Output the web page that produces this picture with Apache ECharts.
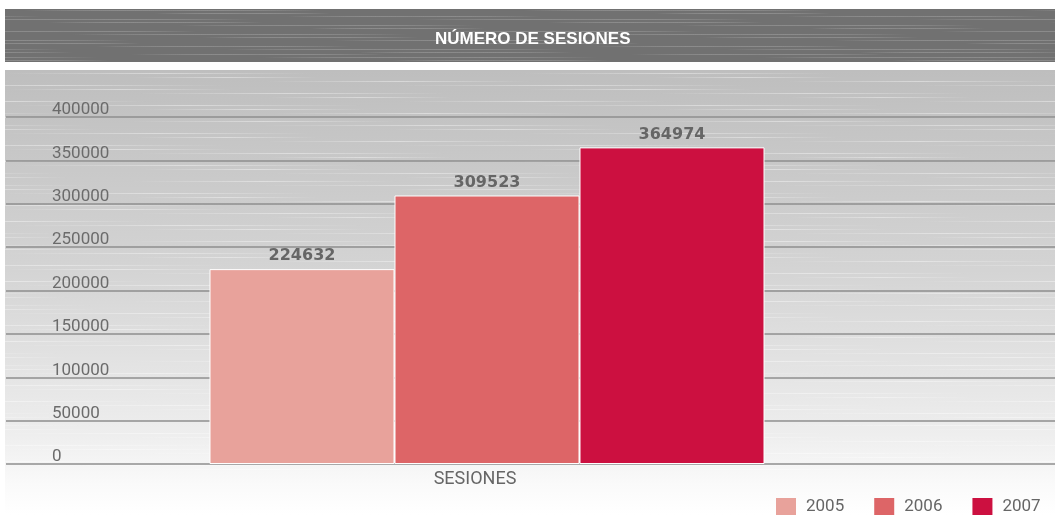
<!DOCTYPE html>
<html><head><meta charset="utf-8">
<script src="https://cdn.jsdelivr.net/npm/echarts@6/dist/echarts.min.js"></script>
<style>html,body{margin:0;padding:0;background:#fff}#c{width:1055px;height:515px}</style>
</head><body><div id="c"></div>
<script>
var categories = ['SESIONES'];
var seriesNames = ['2005', '2006', '2007'];
var values2005 = [224632];
var values2006 = [309523];
var values2007 = [364974];
var yTicks = [0, 50000, 100000, 150000, 200000, 250000, 300000, 350000, 400000];
var colors = ['#e8a29b', '#dd6567', '#cc1040'];

function stripes(w, h, color, alpha, step) {
  var c = document.createElement('canvas');
  c.width = w; c.height = h;
  var g = c.getContext('2d');
  var k = 0;
  for (var y = 1; y < h; y += step) {
    k++;
    var x0 = (k * 131) % w;
    var len = w * (0.35 + ((k * 7) % 5) * 0.08);
    var grd = g.createLinearGradient(x0, 0, x0 + len, 0);
    grd.addColorStop(0, 'rgba(255,255,255,0)');
    grd.addColorStop(0.5, color);
    grd.addColorStop(1, 'rgba(255,255,255,0)');
    g.globalAlpha = alpha;
    g.fillStyle = grd;
    g.fillRect(x0, y, len, 1);
    if (x0 + len > w) {
      g.save(); g.translate(-w, 0); g.fillRect(x0, y, len, 1); g.restore();
    }
  }
  return c;
}

var chart = echarts.init(document.getElementById('c'));
var font = 'Roboto, "Liberation Sans", sans-serif';
var seriesData = [values2005, values2006, values2007];
var series = seriesNames.map(function (n, i) {
  return {
    name: n, type: 'bar', xAxisIndex: 1, yAxisIndex: 1,
    data: seriesData[i], barWidth: 185, barGap: '0%', z: 5,
    itemStyle: { color: colors[i], borderColor: '#ffffff', borderWidth: 1 },
    label: { show: true, position: 'top', distance: 5, color: '#666666',
      fontFamily: '"DejaVu Sans", sans-serif', fontWeight: 'bold', fontSize: 16 }
  };
});

chart.setOption({
  animation: false,
  title: {
    text: 'NÚMERO DE SESIONES', left: 435, top: 31, padding: 0,
    textStyle: { color: '#ffffff', fontFamily: '"Liberation Sans", Arial, sans-serif',
      fontWeight: 'bold', fontSize: 17 }
  },
  graphic: [
    { type: 'rect', z: -20, shape: { x: 5, y: 9, width: 1050, height: 53 }, style: { fill: '#717171' } },
    { type: 'rect', z: -19, shape: { x: 5, y: 9, width: 1050, height: 53 },
      style: { fill: { image: stripes(500, 53, 'rgba(160,160,160,1)', 0.5, 3), repeat: 'repeat' } } },
    { type: 'rect', z: -20, shape: { x: 5, y: 70, width: 1050, height: 445 },
      style: { fill: new echarts.graphic.LinearGradient(0, 0, 0, 1, [
        { offset: 0, color: '#bebebe' },
        { offset: 0.45, color: '#d4d4d4' },
        { offset: 0.82, color: '#eeeeee' },
        { offset: 0.93, color: '#fafafa' },
        { offset: 1, color: '#ffffff' }]) } },
    { type: 'rect', z: -19, shape: { x: 5, y: 70, width: 1050, height: 400 },
      style: { fill: { image: stripes(520, 60, 'rgba(255,255,255,1)', 0.4, 4), repeat: 'repeat' } } }
  ],
  legend: {
    data: seriesNames, left: 776, top: 498, padding: 0, itemWidth: 20, itemHeight: 17,
    itemGap: 30, itemStyle: { borderWidth: 0 },
    icon: 'rect', textStyle: { color: '#666666', fontFamily: font, fontSize: 17, padding: [0, 0, 0, 5] }
  },
  grid: [
    { left: 6, right: 0, top: 117, bottom: 51 },
    { left: 6, right: 87, top: 117, bottom: 51 }
  ],
  xAxis: [
    { type: 'category', gridIndex: 0, data: categories, show: false },
    { type: 'category', gridIndex: 1, data: categories,
      axisLine: { show: false }, axisTick: { show: false },
      axisLabel: { color: '#666666', fontFamily: font, fontSize: 18, margin: 6, padding: [0, 24, 0, 0] } }
  ],
  yAxis: [
    { type: 'value', gridIndex: 0, min: 0, max: 400000, interval: 50000,
      axisLine: { show: false }, axisTick: { show: false },
      splitLine: { show: true, lineStyle: { color: '#8e8e8e', width: 1.5 } },
      axisLabel: { inside: true, margin: 46, color: '#6b6b6b', fontFamily: font, fontSize: 17,
        verticalAlign: 'bottom', lineHeight: 14,
        formatter: function (v) { return yTicks.indexOf(v) >= 0 ? String(v) : ''; } } },
    { type: 'value', gridIndex: 1, min: 0, max: 400000, interval: 50000, show: false,
      splitLine: { show: false } }
  ],
  series: series
});
</script></body></html>
